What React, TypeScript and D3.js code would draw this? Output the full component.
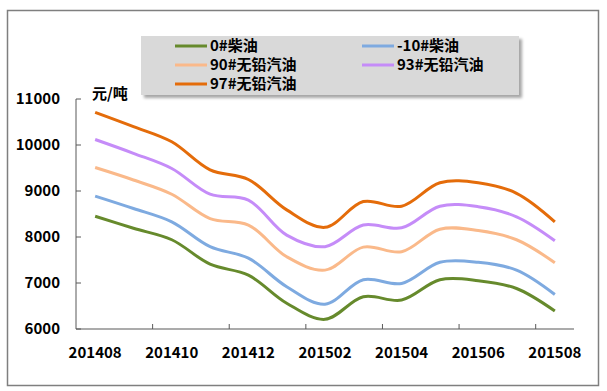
import React from 'react';
import * as d3 from 'd3';

// monthly prices, yuan/ton
const months = ['201408', '201409', '201410', '201411', '201412', '201501', '201502',
  '201503', '201504', '201505', '201506', '201507', '201508'];

const diesel0 = [8450, 8190, 7940, 7410, 7170, 6560, 6210, 6700, 6630, 7070, 7050, 6880, 6390];
const diesel10 = [8890, 8620, 8330, 7790, 7540, 6920, 6540, 7070, 6990, 7450, 7450, 7280, 6750];
const gas90 = [9510, 9240, 8930, 8400, 8260, 7570, 7280, 7780, 7680, 8170, 8140, 7940, 7440];
const gas93 = [10120, 9820, 9490, 8930, 8800, 8040, 7790, 8260, 8200, 8670, 8660, 8440, 7920];
const gas97 = [10710, 10400, 10070, 9460, 9250, 8590, 8210, 8770, 8670, 9180, 9180, 8950, 8330];

const seriesNames = ['0#柴油', '-10#柴油', '90#无铅汽油', '93#无铅汽油', '97#无铅汽油'];
const seriesColors = ['#668a2c', '#7eaae0', '#fab98a', '#c58cf8', '#e46c0a'];
const seriesValues = [diesel0, diesel10, gas90, gas93, gas97];

const yTicks = [6000, 7000, 8000, 9000, 10000, 11000];

const W = 607;
const H = 391;
const FONT = '"Noto Sans CJK SC", "Noto Sans", sans-serif';

export default function App() {
  const margin = { left: 76, right: 33, top: 99, bottom: 62 };
  const plotW = W - margin.left - margin.right;
  const plotH = H - margin.top - margin.bottom;

  const x = d3.scaleBand<string>().domain(months).range([margin.left, margin.left + plotW]);
  const cx = (m: string) => (x(m) || 0) + x.bandwidth() / 2;
  const y = d3.scaleLinear().domain([6000, 11000]).range([margin.top + plotH, margin.top]);

  const line = d3.line<number>()
    .x((_, i) => cx(months[i]))
    .y(d => y(d))
    .curve(d3.curveCatmullRom.alpha(0.5));

  const axisColor = '#595959';
  const baseY = y(6000);

  // legend layout
  const legend = { x: 141, y: 36, w: 378, h: 59 };
  const legendPos = [
    { lx: 175, ly: 46 }, { lx: 362, ly: 46 },
    { lx: 175, ly: 65 }, { lx: 362, ly: 65 },
    { lx: 175, ly: 84 },
  ];

  return (
    <div style={{ position: 'absolute', left: 0, top: 0 }}>
      <svg width={W} height={H} style={{ display: 'block', fontFamily: FONT }}>
        <defs>
          <filter id="lg-shadow" x="-5%" y="-10%" width="115%" height="140%">
            <feDropShadow dx="3" dy="3" stdDeviation="1.5" floodColor="#000" floodOpacity="0.35" />
          </filter>
        </defs>
        <rect x={0} y={0} width={W} height={H} fill="#fff" />
        <rect x={7.5} y={10.5} width={591} height={375} fill="#fff" stroke="#7f7f7f" strokeWidth={1.5} />

        {/* y axis */}
        <line x1={margin.left} x2={margin.left} y1={y(11000)} y2={baseY} stroke={axisColor} strokeWidth={1} />
        {yTicks.map(t => (
          <g key={t}>
            <line x1={margin.left} x2={margin.left + 5} y1={y(t)} y2={y(t)} stroke={axisColor} />
            <text x={60} y={y(t)} dy="0.36em" textAnchor="end" fontSize={15} fontWeight="bold" fill="#000">{t}</text>
          </g>
        ))}

        {/* x axis */}
        <line x1={margin.left} x2={margin.left + plotW} y1={baseY} y2={baseY} stroke={axisColor} strokeWidth={1.2} />
        {months.map((m, i) => (i % 2 === 0 && i > 0 ? (
          <line key={'t' + m} x1={x(m)} x2={x(m)} y1={baseY} y2={baseY - 5} stroke={axisColor} />
        ) : null))}
        {months.map((m, i) => (i % 2 === 0 ? (
          <text key={'l' + m} x={cx(m)} y={353} dy="0.36em" textAnchor="middle" fontSize={15} fontWeight="bold" fill="#000">{m}</text>
        ) : null))}

        <text x={92} y={99} fontSize={15} fontWeight="bold" fill="#000">元/吨</text>

        {/* series */}
        {seriesValues.map((vals, i) => (
          <path key={seriesNames[i]} d={line(vals) || ''} fill="none" stroke={seriesColors[i]} strokeWidth={3} strokeLinejoin="round" />
        ))}

        {/* legend */}
        <rect x={legend.x} y={legend.y} width={legend.w} height={legend.h} fill="#d9d9d9" filter="url(#lg-shadow)" />
        {seriesNames.map((name, i) => (
          <g key={'lg' + name}>
            <line x1={legendPos[i].lx} x2={legendPos[i].lx + 32} y1={legendPos[i].ly} y2={legendPos[i].ly}
              stroke={seriesColors[i]} strokeWidth={3} />
            <text x={legendPos[i].lx + 35} y={legendPos[i].ly} dy="0.36em" fontSize={15} fontWeight="bold" fill="#000">{name}</text>
          </g>
        ))}
      </svg>
    </div>
  );
}
